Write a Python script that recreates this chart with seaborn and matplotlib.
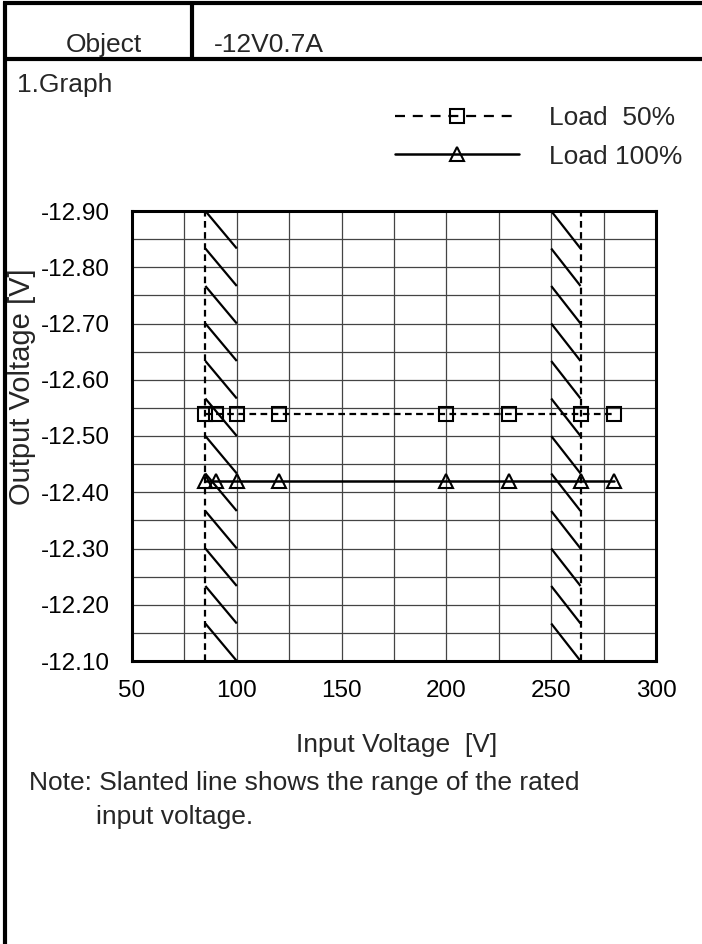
import numpy as np
import pandas as pd
import matplotlib
matplotlib.use("Agg")
import matplotlib.pyplot as plt
from matplotlib.lines import Line2D
import seaborn as sns

# Measured data
input_voltage = [85, 90, 100, 120, 200, 230, 264, 280]
load_50 = [-12.54, -12.54, -12.54, -12.54, -12.54, -12.54, -12.54, -12.54]
load_100 = [-12.42, -12.42, -12.42, -12.42, -12.42, -12.42, -12.42, -12.42]
series_labels = ["Load  50%", "Load 100%"]

# Rated input ranges (hatched) and limit lines
rated_low = (85, 100)
rated_high = (250, 264)

x_ticks = [50, 100, 150, 200, 250, 300]
y_ticks = [-12.90, -12.80, -12.70, -12.60, -12.50, -12.40, -12.30, -12.20, -12.10]

sns.set_theme(style="white")
plt.rcParams["font.family"] = ["Liberation Sans", "DejaVu Sans"]
FS = 19      # general text
FS_TICK = 17.5

fig = plt.figure(figsize=(7.02, 9.44), dpi=100)
W, H = 702, 944

def fx(px):
    return px / W

def fy(py):
    return 1 - py / H

ax = fig.add_axes([fx(132), fy(661), fx(656) - fx(132), fy(211) - fy(661)])

df = pd.DataFrame({"vin": input_voltage, "l50": load_50, "l100": load_100})

# grid
for xv in np.arange(50, 301, 25):
    ax.axvline(xv, color="#444444", lw=0.9, zorder=1)
for yv in np.arange(-12.90, -12.09, 0.05):
    ax.axhline(yv, color="#444444", lw=0.9, zorder=1)

# slanted hatching marking the rated input ranges
n_hatch = 12
step = 0.8 / n_hatch
for lo, hi in (rated_low, rated_high):
    for i in range(n_hatch):
        y0 = -12.90 + i * step
        ax.plot([lo, hi], [y0, y0 + step], color="black", lw=1.6, zorder=2,
                solid_capstyle="butt")
for xv in (rated_low[0], rated_high[1]):
    ax.axvline(xv, color="black", lw=1.6, ls=(0, (3, 2)), zorder=3)

sns.lineplot(data=df, x="vin", y="l50", ax=ax, color="black", lw=1.6,
             linestyle=(0, (3, 2)), marker="s", markersize=9.5,
             markerfacecolor="none", markeredgecolor="black", markeredgewidth=1.5,
             zorder=4)
sns.lineplot(data=df, x="vin", y="l100", ax=ax, color="black", lw=1.8,
             linestyle="-", marker="^", markersize=10.5,
             markerfacecolor="none", markeredgecolor="black", markeredgewidth=1.5,
             zorder=4)

ax.set_xlim(50, 300)
ax.set_ylim(-12.10, -12.90)
ax.set_xticks(x_ticks)
ax.set_xticklabels([str(v) for v in x_ticks], fontsize=FS_TICK)
ax.set_yticks(y_ticks)
ax.set_yticklabels([f"{v:.2f}" for v in y_ticks], fontsize=FS_TICK)
ax.tick_params(axis="both", length=0, colors="black")
ax.tick_params(axis="y", pad=16)
ax.tick_params(axis="x", pad=14)
ax.set_xlabel("")
ax.set_ylabel("")
for s in ax.spines.values():
    s.set_visible(True)
    s.set_color("black")
    s.set_linewidth(2.2)

# axis titles
fig.text(fx(397), fy(745), "Input Voltage  [V]", fontsize=FS, ha="center", va="center")
fig.text(fx(22), fy(387), "Output Voltage [V]", fontsize=21, ha="center", va="center",
         rotation=90)

# legend
handles = [
    Line2D([], [], color="black", lw=1.6, linestyle=(0, (4.5, 3.5)), marker="s",
           markersize=9.5, markerfacecolor="none", markeredgewidth=1.5),
    Line2D([], [], color="black", lw=1.8, linestyle="-", marker="^",
           markersize=10.5, markerfacecolor="none", markeredgewidth=1.5),
]
fig.legend(handles, series_labels, loc="upper left",
           bbox_to_anchor=(fx(382), fy(93)), frameon=False, fontsize=FS,
           handlelength=4.7, handletextpad=1.12, labelspacing=0.55, numpoints=1,
           borderpad=0)

# header table and texts
frame_kw = dict(color="black", lw=3, solid_capstyle="butt")
fig.add_artist(Line2D([fx(3), 1], [fy(3), fy(3)], transform=fig.transFigure, **frame_kw))
fig.add_artist(Line2D([fx(3), 1], [fy(59), fy(59)], transform=fig.transFigure, **frame_kw))
fig.add_artist(Line2D([fx(5), fx(5)], [fy(2), 0], transform=fig.transFigure, **frame_kw))
fig.add_artist(Line2D([fx(192), fx(192)], [fy(3), fy(59)], transform=fig.transFigure, **frame_kw))

fig.text(fx(104), fy(45), "Object", fontsize=FS, ha="center", va="center")
fig.text(fx(214), fy(45), "-12V0.7A", fontsize=FS, ha="left", va="center")
fig.text(fx(17), fy(85), "1.Graph", fontsize=FS, ha="left", va="center")
fig.text(fx(29), fy(783), "Note: Slanted line shows the range of the rated",
         fontsize=FS, ha="left", va="center")
fig.text(fx(96), fy(817), "input voltage.", fontsize=FS, ha="left", va="center")

fig.savefig("out.png", dpi=100, facecolor="white")
